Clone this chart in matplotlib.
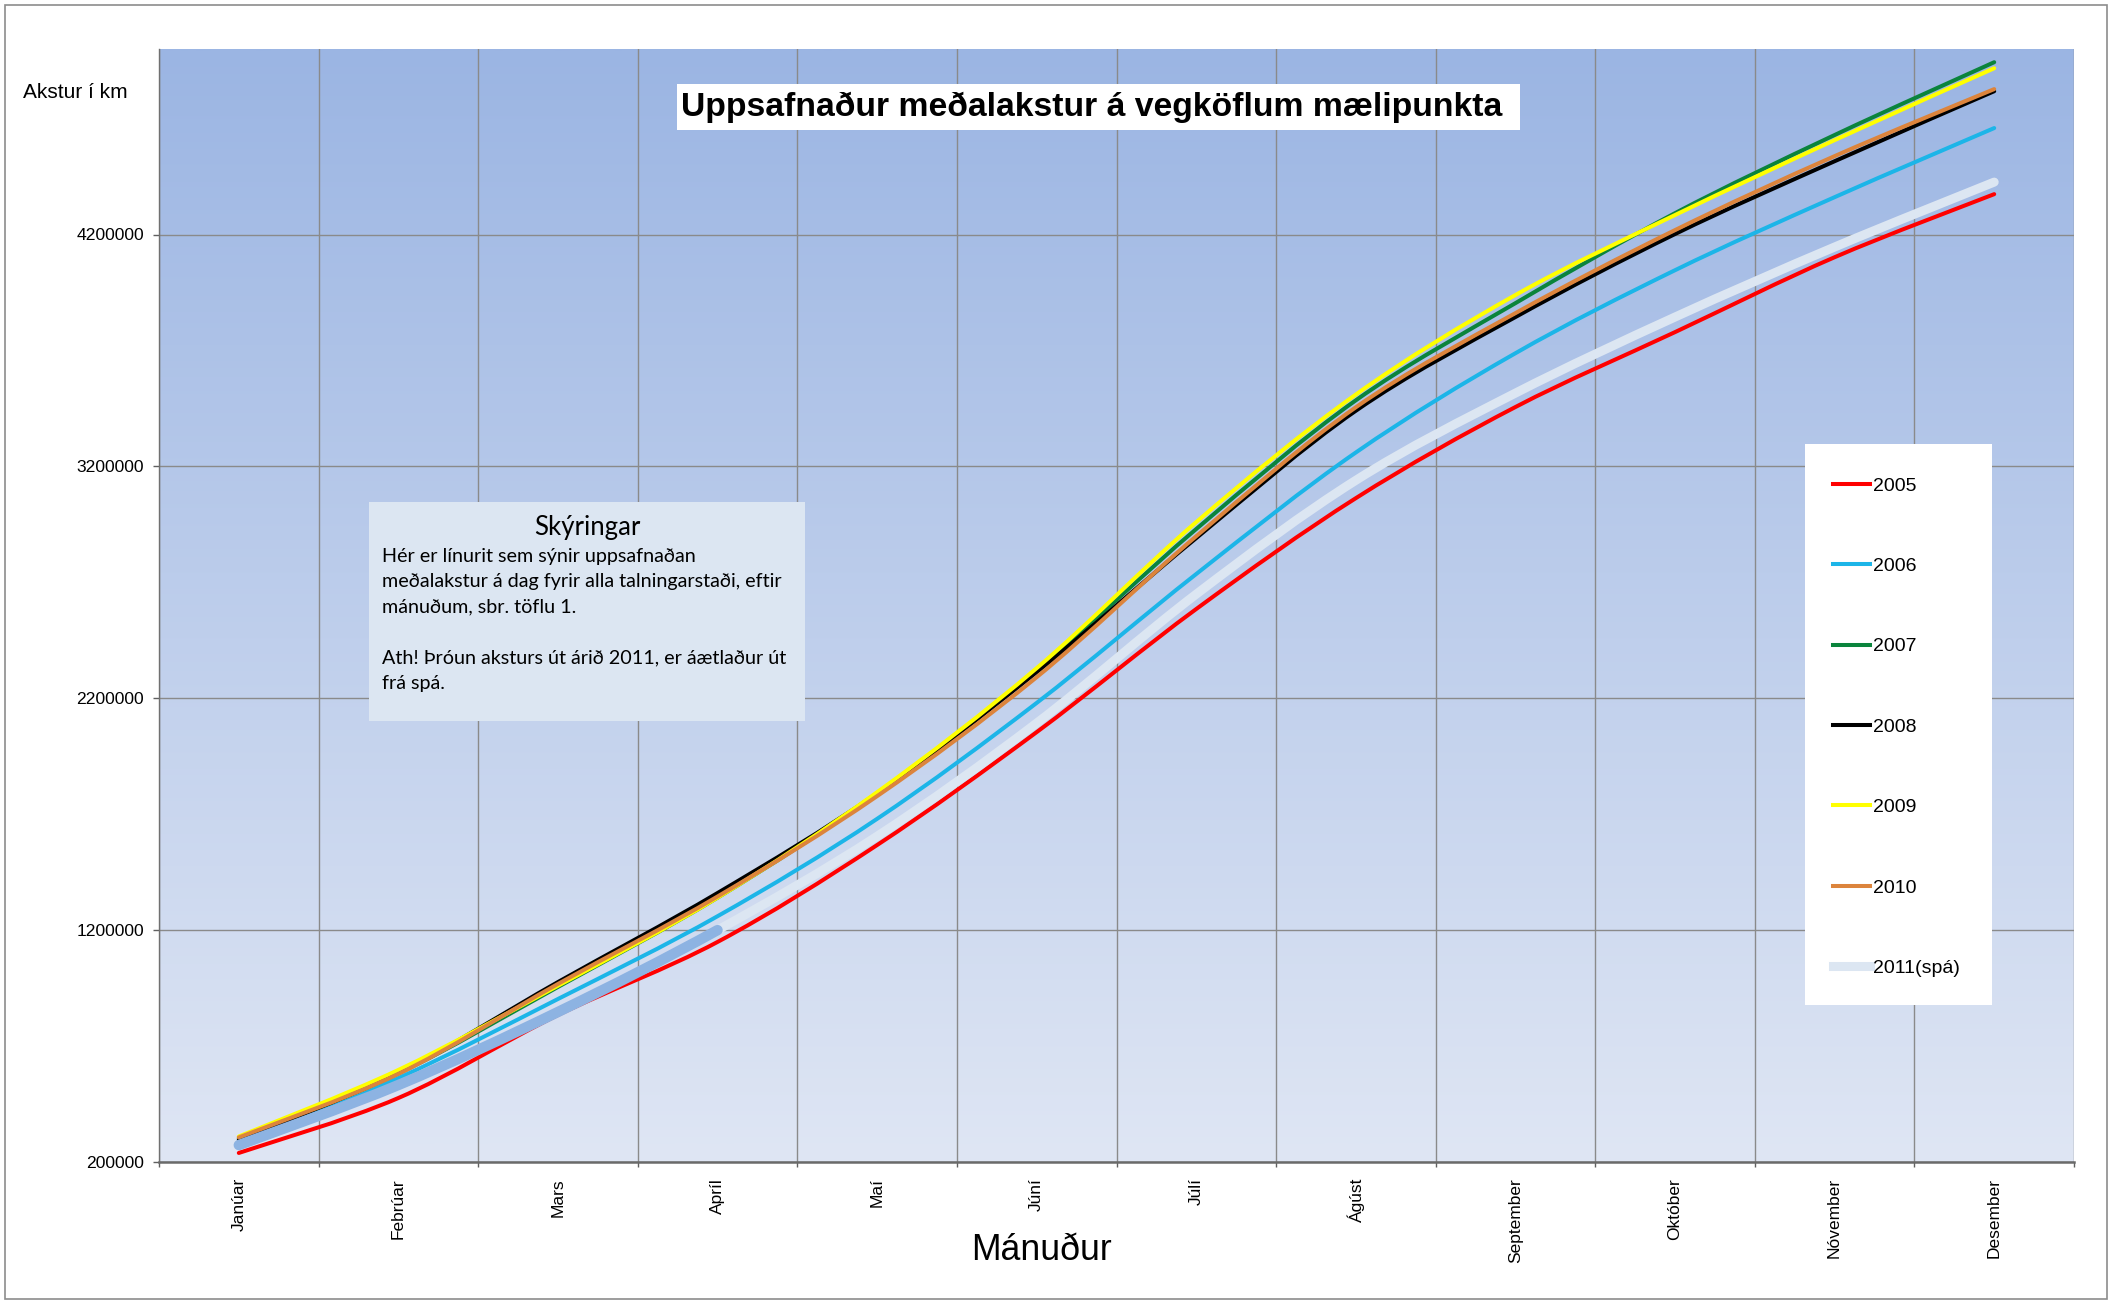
import numpy as np
import matplotlib
matplotlib.use('Agg')
import matplotlib.pyplot as plt
from matplotlib.patches import Rectangle, PathPatch
from matplotlib.path import Path
from matplotlib.lines import Line2D

months = ['Janúar', 'Febrúar', 'Mars', 'Apríl', 'Maí', 'Júní', 'Júlí',
          'Ágúst', 'September', 'Október', 'Nóvember', 'Desember']

# cumulative average driving (km)
akstur_2005 = [239000, 476000, 834000, 1149000, 1567000, 2054000, 2585000,
               3063000, 3456000, 3779000, 4102000, 4374000]
akstur_2006 = [285000, 562000, 903000, 1260000, 1680000, 2180000, 2736000,
               3260000, 3688000, 4046000, 4361000, 4659000]
akstur_2007 = [300000, 582000, 955000, 1340000, 1790000, 2321000, 2930000,
               3485000, 3904000, 4292000, 4629000, 4943000]
akstur_2008 = [295000, 585000, 976000, 1360000, 1790000, 2313000, 2891000,
               3440000, 3844000, 4202000, 4516000, 4818000]
akstur_2009 = [310000, 597000, 960000, 1340000, 1795000, 2330000, 2960000,
               3510000, 3939000, 4284000, 4607000, 4917000]
akstur_2010 = [306000, 580000, 968000, 1345000, 1778000, 2291000, 2899000,
               3455000, 3861000, 4219000, 4538000, 4827000]
akstur_2011 = [273000, 532000, 847000, 1200000, 1605000, 2093000, 2649000,
               3140000, 3516000, 3844000, 4146000, 4426000]
n_measured_2011 = 4   # Jan-Apr measured, the rest is a forecast (spá)

yticks = [200000, 1200000, 2200000, 3200000, 4200000]

W, H = 2111, 1303
fig = plt.figure(figsize=(W / 100, H / 100), dpi=100)
fig.patch.set_facecolor('white')

def fx(px):
    return px / W

def fy(py):
    return 1 - py / H

def smooth_path(xs, ys, i0=0, i1=None):
    """Excel-like smoothed line: cubic bezier through the points (catmull-rom)."""
    pts = np.column_stack([np.asarray(xs, float), np.asarray(ys, float)])
    n = len(pts)
    if i1 is None:
        i1 = n - 1
    verts, codes = [pts[i0]], [Path.MOVETO]
    for i in range(i0, i1):
        p0, p1 = pts[max(i - 1, 0)], pts[i]
        p2, p3 = pts[i + 1], pts[min(i + 2, n - 1)]
        verts += [p1 + (p2 - p0) / 6, p2 - (p3 - p1) / 6, p2]
        codes += [Path.CURVE4] * 3
    return Path(verts, codes)

left, right, top, bottom = 159, 2074, 49, 1162
ax = fig.add_axes([fx(left), fy(bottom), fx(right - left), (bottom - top) / H])

# gradient background of the plot area
c_top = np.array([155, 181, 227]) / 255
c_bot = np.array([223, 230, 244]) / 255
t = np.linspace(0, 1, 256)[:, None]
grad = (c_top * (1 - t) + c_bot * t)[:, None, :]
ax.imshow(grad, extent=[0, 1, 0, 1], transform=ax.transAxes,
          aspect='auto', zorder=0, interpolation='bilinear')

x = np.arange(len(months)) + 0.5
lw = 2.9
series = [
    (akstur_2005, '#ff0000', '2005'),
    (akstur_2006, '#1cb5e8', '2006'),
    (akstur_2007, '#0a843c', '2007'),
    (akstur_2008, '#000000', '2008'),
    (akstur_2009, '#ffff00', '2009'),
    (akstur_2010, '#dc843c', '2010'),
]
handles = []
for vals, col, lab in series:
    ax.add_patch(PathPatch(smooth_path(x, vals), fc='none', ec=col, lw=lw,
                           capstyle='round', joinstyle='round', zorder=3))
    handles.append(Line2D([], [], color=col, lw=lw, label=lab))

# 2011: forecast part light, measured part in blue
ax.add_patch(PathPatch(smooth_path(x, akstur_2011, n_measured_2011 - 1),
                       fc='none', ec='#dce6f2', lw=6.5, capstyle='round',
                       joinstyle='round', zorder=4))
ax.add_patch(PathPatch(smooth_path(x, akstur_2011, 0, n_measured_2011 - 1),
                       fc='none', ec='#8db3e2', lw=7.5, capstyle='round',
                       joinstyle='round', zorder=4))
handles.append(Line2D([], [], color='#dce6f2', lw=6.5, label='2011(spá)'))

ax.set_xlim(0, 12)
ax.set_ylim(200000, 5000000)
ax.set_yticks(yticks)
ax.set_yticklabels([str(v) for v in yticks])
ax.set_xticks(np.arange(13))
ax.set_xticklabels([])
ax.set_xticks(x, minor=True)
ax.set_xticklabels(months, minor=True, rotation=90, family='Liberation Sans',
                   fontsize=12.5)
ax.tick_params(axis='x', which='major', direction='out', length=3.8,
               color='#606060', width=1)
ax.tick_params(axis='x', which='minor', length=0, pad=11.5)
ax.tick_params(axis='y', direction='out', length=4.3, color='#606060',
               width=1, pad=6.5, labelsize=12.6)
for lab in ax.get_yticklabels():
    lab.set_family('Liberation Sans')

ax.grid(True, which='major', color='#8a8a8a', lw=1.0, zorder=1)
ax.set_axisbelow(True)
for s in ('top', 'right'):
    ax.spines[s].set_visible(False)
ax.spines['left'].set_color('#707070')
ax.spines['left'].set_linewidth(1.0)
ax.spines['bottom'].set_color('#6a6a6a')
ax.spines['bottom'].set_linewidth(1.8)

# title in a white box
fig.patches.append(Rectangle((fx(677), fy(130)), fx(1520 - 677), (130 - 84) / H,
                             transform=fig.transFigure, fc='white', ec='none',
                             zorder=2))
fig.text(fx(1092), fy(107), 'Uppsafnaður meðalakstur á vegköflum mælipunkta',
         ha='center', va='center', fontsize=24.3, fontweight='bold',
         family='Liberation Sans', zorder=3)

fig.text(fx(23), fy(93), 'Akstur í km', ha='left', va='center', fontsize=15,
         family='Liberation Sans')
fig.text(fx(1042), fy(1250), 'Mánuður', ha='center', va='center', fontsize=25.7,
         family='Liberation Sans')

# explanation box
fig.patches.append(Rectangle((fx(369), fy(721)), fx(805 - 369), (721 - 502) / H,
                             transform=fig.transFigure, fc='#dce6f2', ec='none',
                             zorder=2))
fig.text(fx(587), fy(528), 'Skýringar', ha='center', va='center', fontsize=18.5,
         family='Lato', zorder=3)
body = ('Hér er línurit sem sýnir uppsafnaðan\n'
        'meðalakstur á dag fyrir alla talningarstaði, eftir\n'
        'mánuðum, sbr. töflu 1.\n'
        '\n'
        'Ath! Þróun aksturs út árið 2011, er áætlaður út\n'
        'frá spá.')
fig.text(fx(382), fy(548), body, ha='left', va='top', fontsize=14.2,
         family='Lato', linespacing=1.6, zorder=3)

# legend in a white box
fig.patches.append(Rectangle((fx(1805), fy(1005)), fx(1992 - 1805), (1005 - 444) / H,
                             transform=fig.transFigure, fc='white', ec='none',
                             zorder=2))
leg = fig.legend(handles=handles, loc='upper left',
                 bbox_to_anchor=(fx(1833), fy(477)), frameon=False,
                 handlelength=1.9, handletextpad=0.15, labelspacing=3.23,
                 borderpad=0, borderaxespad=0,
                 prop={'family': 'Liberation Sans', 'size': 14})
leg.set_zorder(3)

# thin frame round the whole picture
fig.patches.append(Rectangle((fx(5), fy(1299)), fx(2107 - 5), (1299 - 5) / H,
                             transform=fig.transFigure, fc='none', ec='#8c8c8c',
                             lw=1.2, zorder=1))

fig.savefig('out.png', dpi=100, facecolor='white')
